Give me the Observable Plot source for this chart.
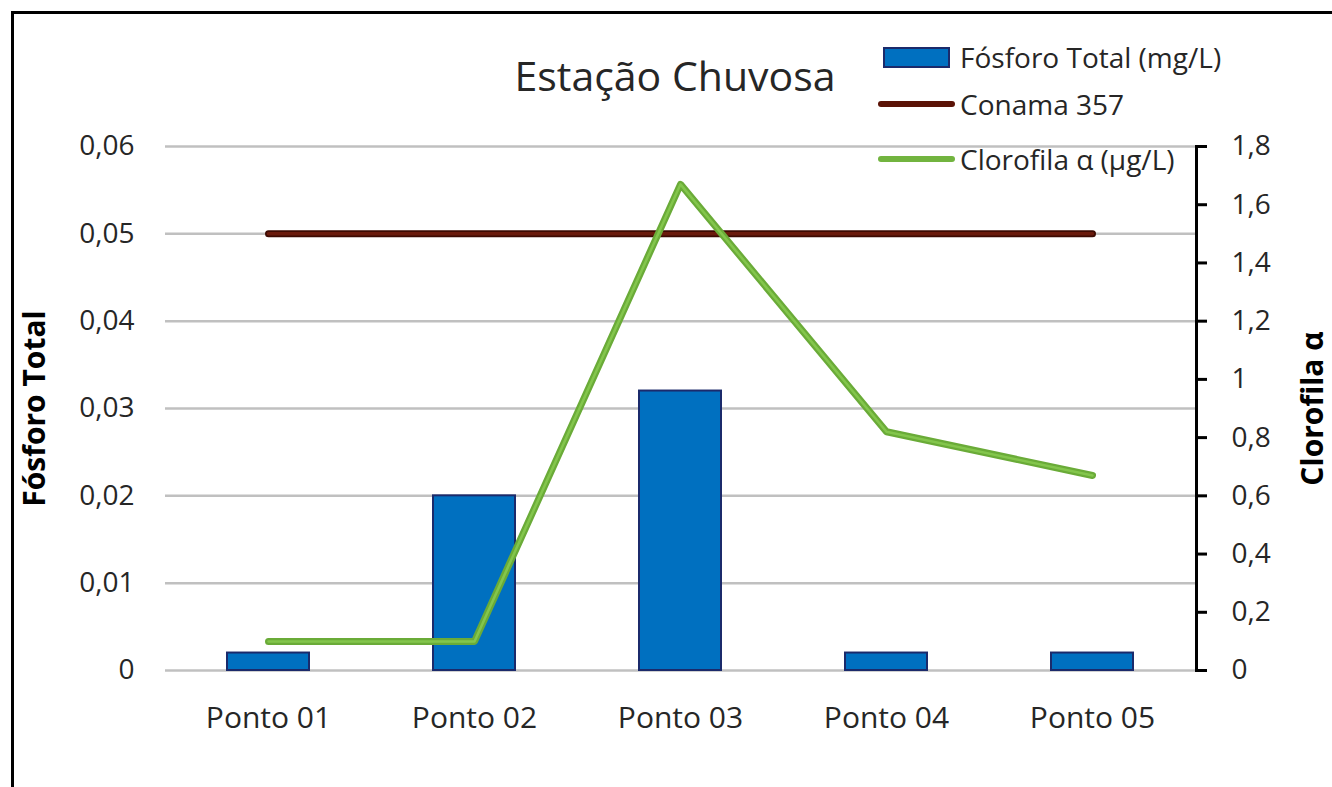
<!DOCTYPE html>
<html>
<head>
<meta charset="utf-8">
<script src="https://cdn.jsdelivr.net/npm/d3@7"></script>
<script src="https://cdn.jsdelivr.net/npm/@observablehq/plot@0.6"></script>
<style>
  html, body { margin: 0; padding: 0; background: #fff; }
  #wrap { position: relative; width: 1332px; height: 787px; overflow: hidden; font-family: "Open Sans", sans-serif; color: #262626; }
  #border { position: absolute; left: 11px; top: 11px; width: 1400px; height: 900px; border-top: 3px solid #000; border-left: 3px solid #000; }
  #title { position: absolute; left: 675px; top: 75px; transform: translate(-50%, -50%); font-size: 41px; white-space: nowrap; }
  .leg { position: absolute; left: 878px; display: flex; align-items: center; font-size: 28px; white-space: nowrap; }
  .sw { width: 77px; display: flex; justify-content: center; margin-right: 5px; }
  .box { width: 63px; height: 17px; background: #0070c0; border: 2px solid #1b2a6b; }
  .ln { width: 77px; height: 6px; border-radius: 3px; }
</style>
</head>
<body>
<div id="wrap">
  <div id="chart"></div>
  <div id="border"></div>
  <div id="title">Estação Chuvosa</div>
  <div class="leg" style="top:38px"><div class="sw"><div class="box"></div></div><span>Fósforo Total (mg/L)</span></div>
  <div class="leg" style="top:85px"><div class="sw"><div class="ln" style="background:#5b1306"></div></div><span>Conama 357</span></div>
  <div class="leg" style="top:140px"><div class="sw"><div class="ln" style="background:#72b43f"></div></div><span>Clorofila α (µg/L)</span></div>
</div>
<script>
const pontos = ["Ponto 01", "Ponto 02", "Ponto 03", "Ponto 04", "Ponto 05"];
const fosforo = [0.002, 0.020, 0.032, 0.002, 0.002];
const conama = [0.05, 0.05, 0.05, 0.05, 0.05];
const clorofila = [0.10, 0.10, 1.67, 0.82, 0.67];
const leftTicks = [0, 0.01, 0.02, 0.03, 0.04, 0.05, 0.06];
const rightTicks = [0, 0.2, 0.4, 0.6, 0.8, 1.0, 1.2, 1.4, 1.6, 1.8];

const k = 0.06 / 1.8;
const fmt = v => String(+v.toFixed(3)).replace(".", ",");
const data = pontos.map((p, i) => ({ponto: p, fosforo: fosforo[i], conama: conama[i], clorofila: clorofila[i]}));

const chart = Plot.plot({
  width: 1332,
  height: 787,
  marginLeft: 165,
  marginRight: 136,
  marginTop: 146,
  marginBottom: 117,
  style: {fontFamily: "Open Sans, sans-serif", color: "#262626", background: "transparent"},
  x: {domain: pontos, paddingInner: 0.6, paddingOuter: 0.3, axis: null},
  y: {domain: [0, 0.06], axis: null},
  marks: [
    Plot.ruleY(leftTicks, {stroke: "#c0c0c0", strokeWidth: 2.5}),
    Plot.barY(data, {x: "ponto", y: "fosforo", fill: "#0070c0", stroke: "#1b2a6b", strokeWidth: 2}),
    Plot.lineY(data, {x: "ponto", y: "conama", stroke: "#3d0a02", strokeWidth: 7, strokeLinecap: "round"}),
    Plot.lineY(data, {x: "ponto", y: "conama", stroke: "#6a1a0c", strokeWidth: 3.5, strokeLinecap: "round"}),
    Plot.lineY(data, {x: "ponto", y: d => d.clorofila * k, stroke: "#6aab38", strokeWidth: 7, strokeLinecap: "round", strokeLinejoin: "round"}),
    Plot.lineY(data, {x: "ponto", y: d => d.clorofila * k, stroke: "#8fd155", strokeWidth: 2.5, strokeOpacity: 0.7, strokeLinecap: "round", strokeLinejoin: "round"}),
    Plot.frame({anchor: "right", stroke: "#000", strokeWidth: 3}),
    Plot.axisY(leftTicks, {anchor: "left", tickSize: 0, tickPadding: 31, tickFormat: fmt, fontSize: 28, label: null}),
    Plot.axisY(rightTicks.map(v => v * k), {anchor: "right", tickSize: 10, tickPadding: 25, tickFormat: v => fmt(v / k), fontSize: 28, stroke: "#000", strokeWidth: 3, label: null}),
    Plot.axisX({anchor: "bottom", tickSize: 0, tickPadding: 36, fontSize: 30, label: null}),
    Plot.text(["Fósforo Total"], {frameAnchor: "left", dx: -130, rotate: -90, textAnchor: "middle", fontSize: 30, fontWeight: "bold", fill: "#000"}),
    Plot.text(["Clorofila α"], {frameAnchor: "right", dx: 117, rotate: -90, textAnchor: "middle", fontSize: 30, fontWeight: "bold", fill: "#000"})
  ]
});
document.getElementById("chart").append(chart);
</script>
</body>
</html>
